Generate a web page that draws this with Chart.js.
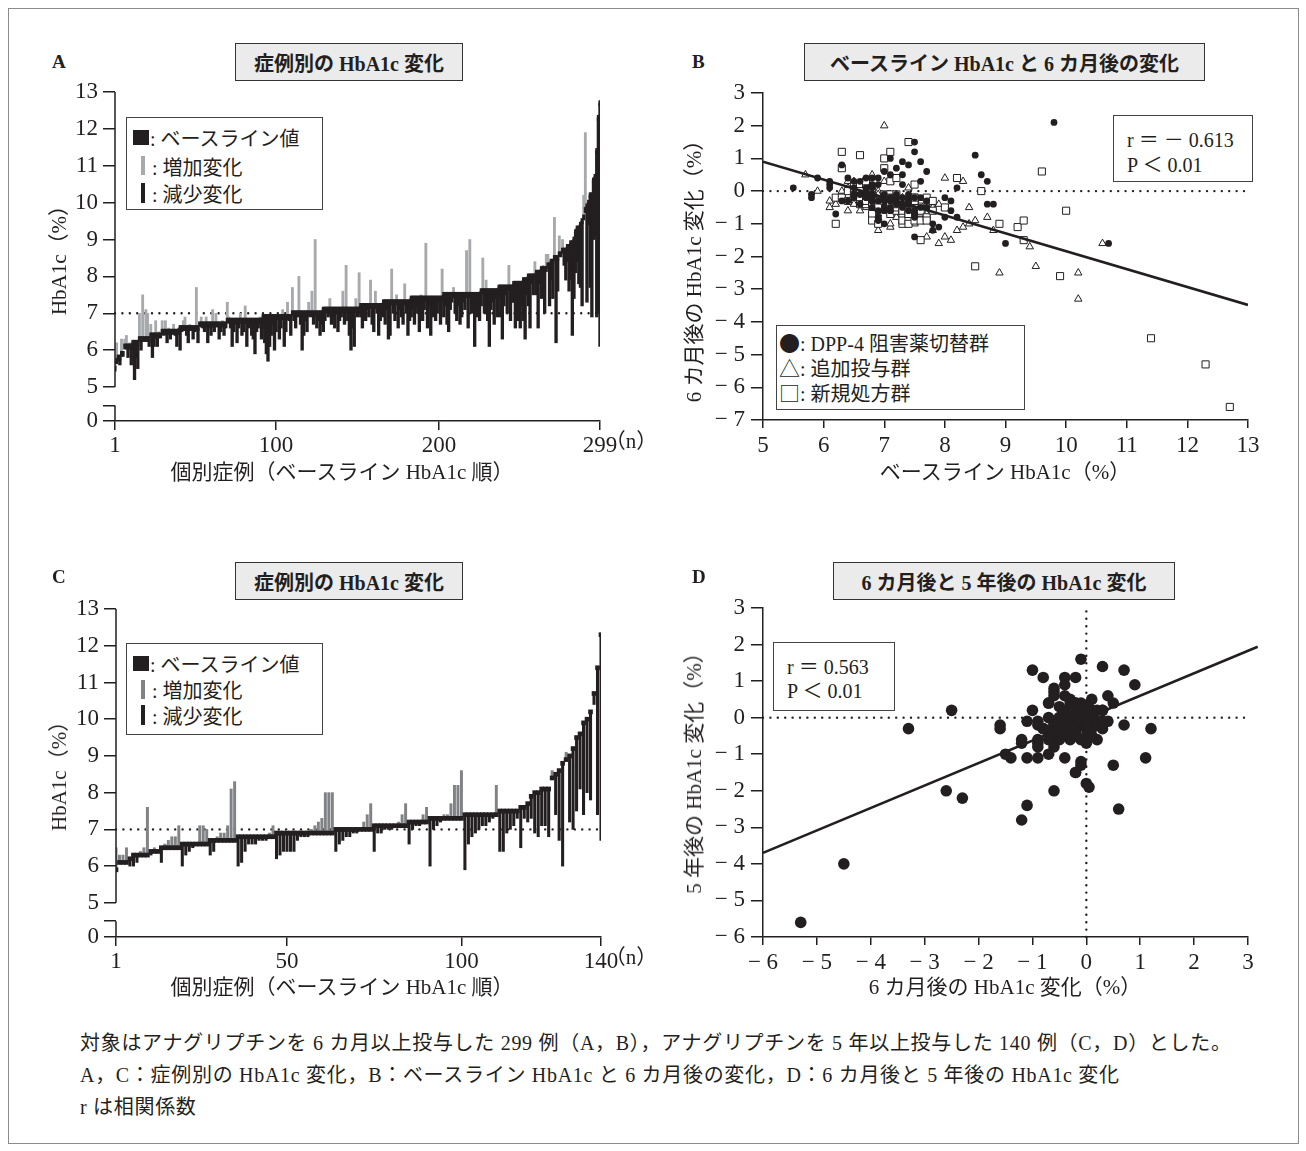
<!DOCTYPE html>
<html lang="ja">
<head>
<meta charset="utf-8">
<title>アナグリプチン HbA1c 変化</title>
<script src="https://cdn.jsdelivr.net/npm/chart.js@4.4.1/dist/chart.umd.min.js"></script>
<style>
  body { margin: 0; background: #fff; }
  #page { position: relative; width: 1306px; height: 1151px; overflow: hidden;
          font-family: "Liberation Serif", "Noto Sans CJK JP", serif; color: #231f20; }
  .frame { position: absolute; left: 8px; top: 8px; width: 1289px; height: 1134px; border: 1px solid #8c8c8c; }
  .abs { position: absolute; white-space: nowrap; }
  .letter { font-weight: bold; font-size: 19px; }
  .ttl { position: absolute; box-sizing: border-box; background: #ebebeb; border: 1px solid #333;
         font-weight: bold; font-size: 20px; display: flex; align-items: center; justify-content: center; }
  .box { position: absolute; box-sizing: border-box; border: 1px solid #444; background: #fff; }
  .lgtext { position: absolute; white-space: nowrap; font-size: 20px; transform: translateY(-50%); }
  .sym { font-family: "Noto Sans CJK JP"; font-size: 21px; }
  .vt { position: absolute; white-space: nowrap; font-size: 21px; transform: translate(-50%, -50%) rotate(-90deg); }
  .xt { position: absolute; white-space: nowrap; font-size: 21px; transform: translate(-50%, -50%); }
  .cap { position: absolute; white-space: nowrap; font-size: 20px; letter-spacing: 0.7px; left: 80px; transform: translateY(-50%); }
  canvas { position: absolute; }
</style>
</head>
<body>
<div id="page">
  <div class="frame"></div>

  <!-- A -->
  <div class="abs letter" style="left:52px;top:51px">A</div>
  <div class="ttl" style="left:235px;top:43px;width:228px;height:38px">症例別の HbA1c 変化</div>
  <canvas id="chartA" width="590" height="430" style="left:40px;top:72px"></canvas>
  <div class="box" style="left:126px;top:117px;width:197px;height:93px"></div>
  <div class="abs" style="left:133px;top:130px;width:16px;height:15px;background:#231f20"></div>
  <div class="lgtext" style="left:150px;top:137px">: ベースライン値</div>
  <div class="abs" style="left:141px;top:156px;width:4px;height:19px;background:#a7a9ac"></div>
  <div class="lgtext" style="left:152px;top:166px">: 増加変化</div>
  <div class="abs" style="left:141px;top:183px;width:4px;height:20px;background:#231f20"></div>
  <div class="lgtext" style="left:152px;top:193px">: 減少変化</div>
  <div class="vt" style="left:57px;top:255px">HbA1c（%）</div>
  <div class="xt" style="left:342px;top:470px">個別症例（ベースライン HbA1c 順）</div>
  <div class="xt" style="left:631px;top:439px">（n）</div>

  <!-- B -->
  <div class="abs letter" style="left:692px;top:51px">B</div>
  <div class="ttl" style="left:804px;top:43px;width:401px;height:38px">ベースライン HbA1c と 6 カ月後の変化</div>
  <canvas id="chartB" width="600" height="430" style="left:680px;top:73px"></canvas>
  <div class="box" style="left:1113px;top:115px;width:140px;height:67px"></div>
  <div class="lgtext" style="left:1127px;top:138px">r ＝ － 0.613</div>
  <div class="lgtext" style="left:1127px;top:163px">P ＜ 0.01</div>
  <div class="box" style="left:776px;top:325px;width:249px;height:85px"></div>
  <div class="lgtext" style="left:779px;top:342px"><span class="sym">●</span>: DPP-4 阻害薬切替群</div>
  <div class="lgtext" style="left:779px;top:367px"><span class="sym">△</span>: 追加投与群</div>
  <div class="lgtext" style="left:779px;top:392px"><span class="sym">□</span>: 新規処方群</div>
  <div class="vt" style="left:692px;top:266px">6 カ月後の HbA1c 変化（%）</div>
  <div class="xt" style="left:1005px;top:470px">ベースライン HbA1c（%）</div>

  <!-- C -->
  <div class="abs letter" style="left:52px;top:566px">C</div>
  <div class="ttl" style="left:235px;top:562px;width:228px;height:38px">症例別の HbA1c 変化</div>
  <canvas id="chartC" width="590" height="430" style="left:40px;top:589px"></canvas>
  <div class="box" style="left:126px;top:643px;width:197px;height:92px"></div>
  <div class="abs" style="left:133px;top:656px;width:16px;height:15px;background:#231f20"></div>
  <div class="lgtext" style="left:150px;top:663px">: ベースライン値</div>
  <div class="abs" style="left:141px;top:680px;width:4px;height:19px;background:#808285"></div>
  <div class="lgtext" style="left:152px;top:689px">: 増加変化</div>
  <div class="abs" style="left:141px;top:705px;width:4px;height:20px;background:#231f20"></div>
  <div class="lgtext" style="left:152px;top:715px">: 減少変化</div>
  <div class="vt" style="left:57px;top:771px">HbA1c（%）</div>
  <div class="xt" style="left:342px;top:985px">個別症例（ベースライン HbA1c 順）</div>
  <div class="xt" style="left:631px;top:955px">（n）</div>

  <!-- D -->
  <div class="abs letter" style="left:692px;top:566px">D</div>
  <div class="ttl" style="left:833px;top:562px;width:342px;height:38px">6 カ月後と 5 年後の HbA1c 変化</div>
  <canvas id="chartD" width="600" height="430" style="left:680px;top:588px"></canvas>
  <div class="box" style="left:773px;top:642px;width:122px;height:69px"></div>
  <div class="lgtext" style="left:787px;top:665px">r ＝ 0.563</div>
  <div class="lgtext" style="left:787px;top:689px">P ＜ 0.01</div>
  <div class="vt" style="left:692px;top:768px">5 年後の HbA1c 変化（%）</div>
  <div class="xt" style="left:1005px;top:985px">6 カ月後の HbA1c 変化（%）</div>

  <!-- caption -->
  <div class="cap" style="top:1041px">対象はアナグリプチンを 6 カ月以上投与した 299 例（A，B），アナグリプチンを 5 年以上投与した 140 例（C，D）とした。</div>
  <div class="cap" style="top:1073px">A，C：症例別の HbA1c 変化，B：ベースライン HbA1c と 6 カ月後の変化，D：6 カ月後と 5 年後の HbA1c 変化</div>
  <div class="cap" style="top:1105px">r は相関係数</div>
</div>

<script>
// ---- 299 cases, 6 months (panels A and B), sorted by baseline HbA1c ----
const baseA = [
  5.5,
  5.7,
  5.8, 5.8,
  5.9, 5.9,
  6.1, 6.1, 6.1, 6.1, 6.1,
  6.2, 6.2, 6.2, 6.2,
  6.3, 6.3, 6.3, 6.3, 6.3, 6.3, 6.3,
  6.4, 6.4, 6.4, 6.4, 6.4, 6.4, 6.4,
  6.5, 6.5, 6.5, 6.5, 6.5, 6.5, 6.5, 6.5, 6.5, 6.5, 6.5,
  6.6, 6.6, 6.6, 6.6, 6.6, 6.6, 6.6, 6.6, 6.6, 6.6, 6.6, 6.6,
  6.7, 6.7, 6.7, 6.7, 6.7, 6.7, 6.7, 6.7, 6.7, 6.7, 6.7, 6.7, 6.7, 6.7, 6.7, 6.7, 6.7,
  6.8, 6.8, 6.8, 6.8, 6.8, 6.8, 6.8, 6.8, 6.8, 6.8, 6.8, 6.8, 6.8, 6.8, 6.8, 6.8, 6.8, 6.8, 6.8, 6.8, 6.8, 6.8,
  6.9, 6.9, 6.9, 6.9, 6.9, 6.9, 6.9, 6.9, 6.9, 6.9, 6.9, 6.9, 6.9, 6.9, 6.9, 6.9, 6.9, 6.9,
  7.0, 7.0, 7.0, 7.0, 7.0, 7.0, 7.0, 7.0, 7.0, 7.0, 7.0, 7.0, 7.0, 7.0, 7.0, 7.0, 7.0, 7.0, 7.0,
  7.1, 7.1, 7.1, 7.1, 7.1, 7.1, 7.1, 7.1, 7.1, 7.1, 7.1, 7.1, 7.1, 7.1, 7.1, 7.1, 7.1, 7.1, 7.1, 7.1, 7.1, 7.1, 7.1,
  7.2, 7.2, 7.2, 7.2, 7.2, 7.2, 7.2, 7.2, 7.2, 7.2, 7.2, 7.2, 7.2, 7.2,
  7.3, 7.3, 7.3, 7.3, 7.3, 7.3, 7.3, 7.3, 7.3, 7.3, 7.3, 7.3, 7.3, 7.3, 7.3, 7.3, 7.3,
  7.4, 7.4, 7.4, 7.4, 7.4, 7.4, 7.4, 7.4, 7.4, 7.4, 7.4, 7.4, 7.4, 7.4, 7.4, 7.4, 7.4, 7.4, 7.4, 7.4,
  7.5, 7.5, 7.5, 7.5, 7.5, 7.5, 7.5, 7.5, 7.5, 7.5, 7.5, 7.5, 7.5, 7.5, 7.5, 7.5, 7.5, 7.5, 7.5, 7.5, 7.5, 7.5, 7.5,
  7.6, 7.6, 7.6, 7.6, 7.6, 7.6, 7.6, 7.6, 7.6, 7.6, 7.6,
  7.7, 7.7, 7.7, 7.7, 7.7, 7.7, 7.7, 7.7, 7.7,
  7.8, 7.8, 7.8, 7.8, 7.8, 7.8,
  7.9, 7.9, 7.9,
  8.0, 8.0, 8.0, 8.0, 8.0,
  8.1, 8.1, 8.1,
  8.2, 8.2, 8.2, 8.2,
  8.3, 8.3,
  8.4, 8.4,
  8.5, 8.5, 8.5,
  8.6, 8.6,
  8.7, 8.7, 8.7,
  8.8, 8.8,
  8.9, 8.9,
  9.0, 9.2, 9.3, 9.3, 9.4, 9.5, 9.6, 9.8, 9.9, 10.0, 10.2, 10.2, 10.6, 10.7, 11.4, 12.3, 12.7
];
// change after 6 months (%)
const chgA = [
  0.1,
  0.5,
  -0.1, -0.2,
  0.4, 0.0,
  0.2, 0.3, -0.3, 0.1, -0.5,
  -0.2, -1.0, -0.4, -0.7,
  0.7, -0.3, 1.2, 0.0, 0.8, 0.7, -0.2,
  0.3, -0.6, -0.3, 0.4, -0.3, 0.1, 0.0,
  0.3, -0.1, 0.3, -0.3, 0.1, -0.2, 0.0, 0.2, -0.1, -0.4, 0.1,
  -0.6, -0.1, 0.2, 0.3, -0.2, -0.4, 0.1, 0.0, -0.3, -0.1, 1.1, -0.4,
  0.0, 0.2, -0.1, -0.2, 0.2, -0.5, -0.1, -0.3, 0.4, -0.2, 0.3, 0.0, -0.4, -0.2, 0.1, -0.3, -0.1,
  0.5, 0.1, -0.2, -0.7, -0.3, -0.1, -0.6, -0.2, 0.2, -0.4, -0.3, 0.4, -0.7, -0.2, -0.1, -0.4, -0.5, -0.9, -0.3, -0.2, 0.1, -0.5,
  -0.3, -0.7, -1.0, -1.2, -0.8, -0.5, -0.2, -0.9, -0.4, 0.0, -0.6, -0.3, 0.2, -0.8, -0.4, 0.4, -0.1, -0.5,
  0.7, -0.2, -0.4, -0.1, 1.0, -0.3, -1.0, -0.6, -0.2, -0.5, 0.3, -0.1, 0.6, -0.3, 2.0, -0.4, -0.2, -0.6, -0.3,
  -0.6, -0.3, -0.1, -0.2, 0.3, -0.4, -0.2, -0.5, -0.1, -0.6, -0.3, -0.2, 0.5, -0.4, 1.2, -0.3, -0.7, -1.1, -0.5, -1.0, 0.3, -0.2, 1.0,
  -0.3, -0.6, -0.2, -0.4, -0.1, -0.3, 0.7, -0.5, -0.7, 0.4, -0.2, -0.8, -0.4, -0.1,
  -0.4, -0.6, -0.2, -1.0, -0.9, 0.9, -0.3, -0.5, 0.2, -0.7, -0.2, -0.4, -0.6, 0.5, -0.3, -0.9, -0.5,
  -0.5, -0.3, -0.7, -0.2, -0.4, -0.9, 0.1, -0.6, -0.3, 1.5, -0.8, -0.2, -1.0, -0.5, -0.3, -0.6, -0.4, -0.1, -0.7, 0.8,
  -0.6, -0.3, -0.8, -1.0, -0.4, -0.2, 0.2, -0.5, -0.7, -0.3, -0.8, -0.6, -0.2, -0.4, 1.2, -0.9, 1.5, -0.5, -0.3, -1.4, -0.6, -0.2, -0.7,
  -0.4, 0.9, -0.6, 0.3, -0.8, -1.5, -0.5, -0.3, -0.9, -0.2, -0.7,
  -0.3, -0.8, -1.4, -0.5, -0.2, -0.7, 0.6, -0.9, -0.4,
  -0.5, -1.2, -0.3, -1.0, -1.2, -0.6,
  -1.1, -1.6, -0.4,
  -0.8, -1.4, -0.2, -0.5, 0.4,
  -0.6, -1.5, -0.3,
  -0.8, 0.1, -1.2, 0.4,
  0.3, -1.1,
  -0.5, -1.0,
  1.1, -2.3, -0.9,
  0.5, 0.0,
  0.3, -0.4, -0.8,
  -0.4, -1.2,
  -1.0, -2.5,
  -1.6, -1.1, -0.9, -1.5, -1.7, -2.3, 0.6, 2.1, -2.6, -0.6, -2.5, -3.3, -1.6, -1.6, -4.5, -5.3, -6.6
];
// group: d = DPP-4 阻害薬切替群, t = 追加投与群, s = 新規処方群
const grpA = [
  'd', 't', 'dd', 'dt', 'ddtdt', 'sstd', 'sdstdts', 'ttsddts', 'tsdtsdtsdtd', 'tdsdsdtstdss',
  'dtsdstdsdtsdstdst', 'tdstdstddstdstdstsdtsd', 'dtstdstdstdsdtsdts', 'sdtssddtsdtddsttsdt',
  'dstdtsdtsdtsdtsdstdtstd', 'dstdstdstsdtsd', 'tsdstdstdstdsdtsd', 'tdstdstdsstdstdstdsd',
  'tsdtsdstdstdstdsdtsdtsd', 'tdsdtsdtsdt', 'dstdstdst', 'tdsdts', 'dtt', 'dtdst', 'dtd', 'ddts',
  'tt', 'tt', 'dst', 'ds', 'ddt', 'dt', 'st', 'dssstts', 'dsstttdsss'
].join('');

// ---- 140 cases, 5 years (panels C and D), sorted by baseline HbA1c ----
const baseC = [
  5.9,
  6.1, 6.1, 6.1,
  6.2,
  6.3, 6.3, 6.3, 6.3, 6.3,
  6.4, 6.4, 6.4,
  6.5, 6.5, 6.5, 6.5, 6.5, 6.5,
  6.6, 6.6, 6.6, 6.6, 6.6, 6.6, 6.6, 6.6,
  6.7, 6.7, 6.7, 6.7, 6.7, 6.7, 6.7, 6.7,
  6.8, 6.8, 6.8, 6.8, 6.8, 6.8, 6.8, 6.8, 6.8, 6.8, 6.8,
  6.9, 6.9, 6.9, 6.9, 6.9, 6.9, 6.9, 6.9, 6.9, 6.9, 6.9, 6.9, 6.9, 6.9, 6.9, 6.9, 6.9,
  7.0, 7.0, 7.0, 7.0, 7.0, 7.0, 7.0, 7.0, 7.0, 7.0, 7.0,
  7.1, 7.1, 7.1, 7.1, 7.1, 7.1, 7.1, 7.1, 7.1, 7.1,
  7.2, 7.2, 7.2, 7.2, 7.2, 7.2,
  7.3, 7.3, 7.3, 7.3, 7.3, 7.3, 7.3, 7.3, 7.3, 7.3,
  7.4, 7.4, 7.4, 7.4, 7.4, 7.4, 7.4, 7.4, 7.4, 7.4,
  7.5, 7.5, 7.5, 7.5, 7.5, 7.5,
  7.6, 7.6,
  7.7, 7.9, 8.0, 8.0, 8.1, 8.1, 8.1,
  8.4, 8.5, 8.6, 8.8, 8.9, 9.0, 9.2, 9.5, 9.6, 9.9, 10.0, 10.2, 10.7, 11.4, 12.3
];
// change after 5 years (%)
const chg5y = [
  0.6,
  0.2, 0.2, 0.4,
  -0.2,
  -0.3, -0.2, 0.1, 0.2, 1.3,
  -0.1, 0.1, 0.0,
  -0.4, 0.1, 0.2, 0.3, 0.3, 0.6,
  -0.6, -0.3, -0.2, -0.1, 0.0, 0.5, 0.5, 0.4,
  -0.4, -0.3, 0.1, 0.2, 0.2, 0.4, 1.4, 1.6,
  -0.8, -0.7, -0.4, -0.2, -0.2, -0.2, -0.1, -0.1, -0.1, 0.1, 0.3,
  -0.7, -0.6, -0.5, -0.5, -0.5, -0.5, -0.2, -0.1, -0.1, -0.1, 0.1, 0.2, 0.3, 0.4, 1.1, 1.1, 1.1,
  -0.6, -0.4, -0.3, -0.2, -0.2, -0.1, -0.1, 0.0, 0.2, 0.4, 0.7,
  -0.7, -0.2, -0.2, -0.1, -0.1, -0.1, 0.0, 0.1, 0.3, 0.6,
  -0.6, -0.2, -0.1, -0.1, 0.2, 0.4,
  -1.3, -0.3, -0.2, -0.1, 0.1, 0.1, 0.4, 0.9, 0.9, 1.3,
  -1.5, -0.8, -0.6, -0.5, -0.4, -0.3, -0.3, -0.2, -0.1, 0.8,
  -1.1, -1.1, -0.6, -0.5, -0.4, -0.2,
  -1.1, -0.3,
  -0.5, -0.6, -1.1, -1.2, -1.0, -1.0, -1.3,
  0.2, -1.1, -1.9, -2.8, 0.2, -1.8, -2.2, -2.0, -1.5, -2.5, -2.0, -2.4, -0.3, -4.0, -5.6
];
// change after 6 months for the same 140 cases (%)
const chg6m = [
  -0.6,
  -1.0, 0.1, -0.7,
  -1.6,
  -1.6, -0.9, -0.3, 0.2, -1.0,
  -1.1, -0.2, -0.5,
  -0.2, -0.1, 0.3, -0.5, -0.2, 0.4,
  -1.2, -0.8, -0.4, 0.4, -0.7, -0.3, 0.1, 0.5,
  -0.6, 0.0, -0.4, -0.1, -0.3, -0.1, 0.3, -0.1,
  -0.9, -1.2, -0.3, 0.1, -0.5, 0.7, -0.2, 0.0, -0.4, -0.2, -0.3,
  0.0, 0.2, -0.5, 0.1, -0.2, -0.3, -0.6, -0.1, 0.2, -0.3, -0.2, 0.3, 0.0, -0.2, -0.8, -0.4, -0.2,
  -0.5, -0.7, 0.3, -0.1, -0.6, 0.1, -0.4, -0.5, -0.1, -0.7, -0.6,
  -0.9, -0.2, 0.0, -0.3, 0.2, -0.1, -0.2, 0.1, -0.1, -0.4,
  -0.3, -0.4, 0.3, -0.2, 0.0, -0.3,
  -0.1, -0.8, 0.3, -0.9, -0.1, -0.3, -0.2, -0.4, 0.9, 0.7,
  -0.2, -0.6, -0.9, 0.1, -0.3, 0.1, -0.5, 0.0, -0.2, -0.6,
  -1.4, -1.1, -0.1, 0.0, -0.2, -0.3,
  1.1, 1.2,
  -0.4, -0.7, -0.9, -0.1, -0.7, -1.5, 0.5,
  -2.5, -0.4, 0.05, -1.2, -0.3, 0.0, -2.3, -2.6, -0.2, 0.6, -0.6, -1.1, -3.3, -4.5, -5.3
];

// axis ticks and regression lines (value space)
const xTicksA = [1, 100, 200, 299];
const xTicksC = [1, 50, 100, 140];
const yTicksAC = [5, 6, 7, 8, 9, 10, 11, 12, 13];
const fitB = [{ x: 5, y: 0.9 }, { x: 13, y: -3.48 }];
const fitD = [{ x: -6, y: -3.7 }, { x: 3.18, y: 1.94 }];

const ink = '#231f20';
const tickFont = { family: 'Liberation Serif', size: 23 };

function signed(v) {
  return v < 0 ? '\u2212 ' + Math.abs(v) : String(v);
}

// y axis with a break between 5 and 0
const brokenAxis = {
  id: 'brokenAxis',
  afterDatasetsDraw(chart, args, opts) {
    const y = chart.scales.y, ctx = chart.ctx, x0 = chart.chartArea.left;
    ctx.save();
    ctx.strokeStyle = ink;
    ctx.lineWidth = 1.5;
    ctx.beginPath();
    ctx.moveTo(x0, y.getPixelForValue(13));
    ctx.lineTo(x0, y.getPixelForValue(5));
    ctx.moveTo(x0, y.getPixelForValue(opts.gap));
    ctx.lineTo(x0, y.getPixelForValue(y.min));
    ctx.stroke();
    ctx.restore();
  }
};

function dotted(data) {
  return {
    type: 'line', data: data, borderColor: ink, borderWidth: 2.4,
    borderDash: [0, 7.4], borderCapStyle: 'round', pointRadius: 0, order: 9, clip: false
  };
}

function caseChart(id, base, chg, o) {
  const block = base.map((b, i) => ({ x: i + 1, y: [b - o.half, b + o.half] }));
  const up = [], down = [];
  base.forEach((b, i) => {
    const c = chg[i];
    if (c > 0) up.push({ x: i + 1, y: [b, +(b + c).toFixed(2)] });
    else if (c < 0) down.push({ x: i + 1, y: [+(b + c).toFixed(2), b] });
  });
  new Chart(document.getElementById(id), {
    type: 'bar',
    data: {
      datasets: [
        { data: block, backgroundColor: ink, barThickness: o.blockW, grouped: false, order: 0 },
        { data: down, backgroundColor: ink, barThickness: o.downW, grouped: false, order: 1 },
        { data: up, backgroundColor: o.gray, barThickness: o.upW, grouped: false, order: 2 },
        dotted([{ x: 1, y: 7 }, { x: base.length, y: 7 }])
      ]
    },
    options: {
      responsive: false,
      animation: false,
      layout: { padding: { top: 20, right: o.padRight, left: 0, bottom: 0 } },
      plugins: { legend: { display: false }, tooltip: { enabled: false }, brokenAxis: { gap: 4.5 } },
      scales: {
        x: {
          type: 'linear', min: 1, max: base.length, offset: false,
          afterBuildTicks: s => { s.ticks = o.xTicks.map(v => ({ value: v })); },
          ticks: { font: tickFont, color: ink, padding: 2, maxRotation: 0, autoSkip: false, callback: v => String(v) },
          grid: { drawOnChartArea: false, tickLength: 9, color: ink, lineWidth: 1.5, offset: false },
          border: { display: true, color: ink, width: 1.5 },
          afterFit: s => { s.height = o.xH; }
        },
        y: {
          type: 'linear', min: o.yMin, max: 13,
          afterBuildTicks: s => { s.ticks = [o.yMin, 4.5].concat(yTicksAC).map(v => ({ value: v })); },
          ticks: { font: tickFont, color: ink, padding: 5, autoSkip: false,
                   callback: v => (v < 4.3 ? '0' : v < 4.9 ? '' : String(v)) },
          grid: { drawOnChartArea: false, tickLength: 12, color: ink, lineWidth: 1.5 },
          border: { display: false },
          afterFit: s => { s.width = o.yW; }
        }
      }
    },
    plugins: [brokenAxis]
  });
}

caseChart('chartA', baseA, chgA, {
  half: 0.07, blockW: 2.4, downW: 2.7, upW: 2.2, gray: '#a7a9ac', xTicks: xTicksA,
  yMin: 4.08, padRight: 30, xH: 81, yW: 75
});
caseChart('chartC', baseC, chg5y, {
  half: 0.055, blockW: 4, downW: 2.4, upW: 2.3, gray: '#808285', xTicks: xTicksC,
  yMin: 4.07, padRight: 29, xH: 82, yW: 76
});

function scatterScales(xMin, xMax, yMin, yMax, xH) {
  return {
    x: {
      type: 'linear', min: xMin, max: xMax,
      ticks: { stepSize: 1, font: tickFont, color: ink, padding: 4, maxRotation: 0, callback: signed },
      grid: { drawOnChartArea: false, tickLength: 8, color: ink, lineWidth: 1.5 },
      border: { display: true, color: ink, width: 1.5 },
      afterFit: s => { s.height = xH; }
    },
    y: {
      type: 'linear', min: yMin, max: yMax,
      ticks: { stepSize: 1, font: tickFont, color: ink, padding: 6, callback: signed },
      grid: { drawOnChartArea: false, tickLength: 12, color: ink, lineWidth: 1.5 },
      border: { display: true, color: ink, width: 1.5 },
      afterFit: s => { s.width = 83; }
    }
  };
}

// B: baseline vs 6-month change, by group
const ptsDpp = [], ptsAdd = [], ptsNew = [];
baseA.forEach((b, i) => {
  const p = { x: b, y: chgA[i] };
  if (grpA[i] === 'd') ptsDpp.push(p);
  else if (grpA[i] === 't') ptsAdd.push(p);
  else ptsNew.push(p);
});

new Chart(document.getElementById('chartB'), {
  type: 'scatter',
  data: {
    datasets: [
      { data: fitB, showLine: true, borderColor: ink, borderWidth: 2.6, pointRadius: 0, order: 0 },
      { data: ptsDpp, pointStyle: 'circle', pointRadius: 3.4, backgroundColor: ink, borderWidth: 0, order: 1 },
      { data: ptsNew, pointStyle: 'rect', pointRadius: 5, backgroundColor: '#fff', borderColor: ink, borderWidth: 1, order: 2 },
      { data: ptsAdd, pointStyle: 'triangle', pointRadius: 4.3, backgroundColor: '#fff', borderColor: ink, borderWidth: 1, order: 3 },
      dotted([{ x: 5, y: 0 }, { x: 13, y: 0 }])
    ]
  },
  options: {
    responsive: false,
    animation: false,
    layout: { padding: { top: 20, right: 32, left: 0, bottom: 0 } },
    plugins: { legend: { display: false }, tooltip: { enabled: false } },
    scales: scatterScales(5, 13, -7, 3, 83)
  }
});

// D: 6-month change vs 5-year change
const ptsD = chg6m.map((x, i) => ({ x: x, y: chg5y[i] }));
new Chart(document.getElementById('chartD'), {
  type: 'scatter',
  data: {
    datasets: [
      { data: fitD, showLine: true, borderColor: ink, borderWidth: 2.6, pointRadius: 0, order: 0, clip: false },
      { data: ptsD, pointStyle: 'circle', pointRadius: 5.8, backgroundColor: ink, borderWidth: 0, order: 1 },
      dotted([{ x: -6, y: 0 }, { x: 3, y: 0 }]),
      dotted([{ x: 0, y: -6 }, { x: 0, y: 3 }])
    ]
  },
  options: {
    responsive: false,
    animation: false,
    layout: { padding: { top: 20, right: 32, left: 0, bottom: 0 } },
    plugins: { legend: { display: false }, tooltip: { enabled: false } },
    scales: scatterScales(-6, 3, -6, 3, 81)
  }
});
</script>
</body>
</html>
